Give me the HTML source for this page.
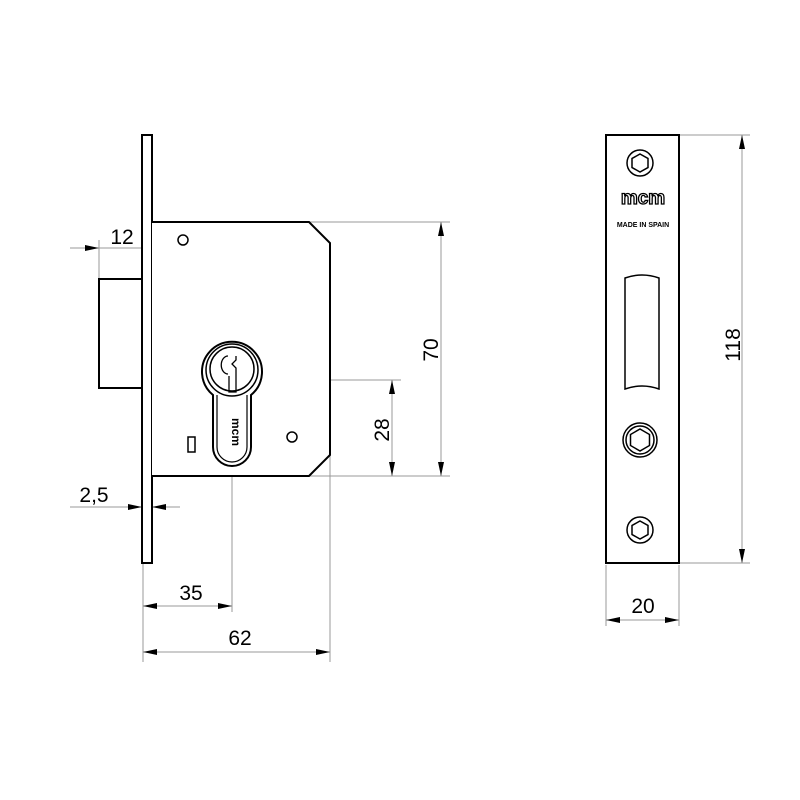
<!DOCTYPE html>
<html><head><meta charset="utf-8"><style>html,body{margin:0;padding:0;background:#fff}svg{display:block}</style></head>
<body>
<svg width="800" height="800" viewBox="0 0 800 800" xmlns="http://www.w3.org/2000/svg">
<defs>
<marker id="a" viewBox="0 0 14 6" refX="14" refY="3" markerWidth="14" markerHeight="6" orient="auto-start-reverse" markerUnits="userSpaceOnUse"><path d="M0,0 L14,3 L0,6 Z" fill="#000"/></marker>
</defs>
<g fill="none" stroke="#999" stroke-width="1">
<line x1="152" y1="222" x2="450" y2="222"/>
<line x1="309" y1="476" x2="450" y2="476"/>
<line x1="262" y1="380" x2="401" y2="380"/>
<line x1="143" y1="562" x2="143" y2="662"/>
<line x1="232" y1="380" x2="232" y2="612"/>
<line x1="330" y1="455" x2="330" y2="662"/>
<line x1="99" y1="240" x2="99" y2="280"/>
<line x1="70" y1="248" x2="170" y2="248"/>
<line x1="70" y1="507" x2="180" y2="507"/>
<line x1="679" y1="135" x2="750" y2="135"/>
<line x1="679" y1="563" x2="750" y2="563"/>
<line x1="606" y1="565" x2="606" y2="626"/>
<line x1="679" y1="565" x2="679" y2="626"/>
</g>
<g stroke="#999" stroke-width="1">
<line x1="441" y1="222" x2="441" y2="476" marker-start="url(#a)" marker-end="url(#a)"/>
<line x1="392" y1="380" x2="392" y2="476" marker-start="url(#a)" marker-end="url(#a)"/>
<line x1="143" y1="606" x2="232" y2="606" marker-start="url(#a)" marker-end="url(#a)"/>
<line x1="143" y1="652" x2="330" y2="652" marker-start="url(#a)" marker-end="url(#a)"/>
<line x1="742" y1="135" x2="742" y2="563" marker-start="url(#a)" marker-end="url(#a)"/>
<line x1="606" y1="620" x2="679" y2="620" marker-start="url(#a)" marker-end="url(#a)"/>
<line x1="80" y1="248" x2="99" y2="248" marker-end="url(#a)"/>
<line x1="170" y1="248" x2="152" y2="248" marker-end="url(#a)"/>
<line x1="120" y1="507" x2="142" y2="507" marker-end="url(#a)"/>
<line x1="172" y1="507" x2="152" y2="507" marker-end="url(#a)"/>
</g>
<g fill="#fff" stroke="#000" stroke-width="2">
<rect x="142" y="135" width="10" height="428"/>
<rect x="99" y="279" width="43" height="109"/>
<path d="M152,222 L309,222 L330,243 L330,455 L309,476 L152,476"/>
<circle cx="183" cy="240" r="5" stroke-width="1.5"/>
<circle cx="292" cy="437" r="5" stroke-width="1.5"/>
<rect x="188" y="437" width="7" height="15" stroke-width="1.5"/>
<path d="M213,395 A30,30 0 1 1 251,395 L251,447 A19,19 0 0 1 213,447 Z" stroke-width="2"/>
<circle cx="232" cy="370" r="26" stroke-width="1.5"/>
<circle cx="232" cy="369" r="22" stroke-width="1.5"/>
<path d="M217,395 L217,447 A15,15 0 0 0 247,447 L247,395" stroke-width="1.2" fill="none"/>
<path d="M228,356 A6,8 0 0 0 228,374 M236,356 L236,360 L232,364 L236,368 L236,392 L229,392 L229,376" stroke-width="1.3" fill="none"/>
</g>
<text x="232" y="432" font-family="Liberation Sans, sans-serif" font-size="12" font-weight="bold" text-anchor="middle" transform="rotate(90 232 432)" fill="#000">mcm</text>
<g fill="#fff" stroke="#000" stroke-width="2">
<rect x="606" y="135" width="73" height="428"/>
<path d="M625,278 Q642,272 659,278 L659,389 Q642,383 625,389 Z" stroke-width="1.5"/>
</g>
<g fill="none" stroke="#000" stroke-width="1.5">
<circle cx="640" cy="163" r="13"/>
<polygon points="640,154 648,158.5 648,167.5 640,172 632,167.5 632,158.5"/>
<circle cx="640" cy="440" r="17"/><circle cx="640" cy="440" r="14"/>
<polygon points="640,429 649.5,434.5 649.5,445.5 640,451 630.5,445.5 630.5,434.5"/>
<circle cx="640" cy="530" r="13"/>
<polygon points="640,521 648,525.5 648,534.5 640,539 632,534.5 632,525.5"/>
</g>
<text x="643" y="204" font-family="Liberation Sans, sans-serif" font-size="19" font-weight="bold" text-anchor="middle" fill="#fff" stroke="#000" stroke-width="1.3">mcm</text>
<text x="643" y="227" font-family="Liberation Sans, sans-serif" font-size="7" font-weight="bold" text-anchor="middle" fill="#000">MADE IN SPAIN</text>
<g font-family="Liberation Sans, sans-serif" font-size="21" fill="#000" text-anchor="middle">
<text x="122" y="244">12</text>
<text x="94" y="502">2,5</text>
<text x="191" y="600">35</text>
<text x="240" y="645">62</text>
<text x="643" y="613">20</text>
<text transform="translate(389 430) rotate(-90)">28</text>
<text transform="translate(438 350) rotate(-90)">70</text>
<text transform="translate(740 345) rotate(-90)">118</text>
</g>
</svg>
</body></html>
